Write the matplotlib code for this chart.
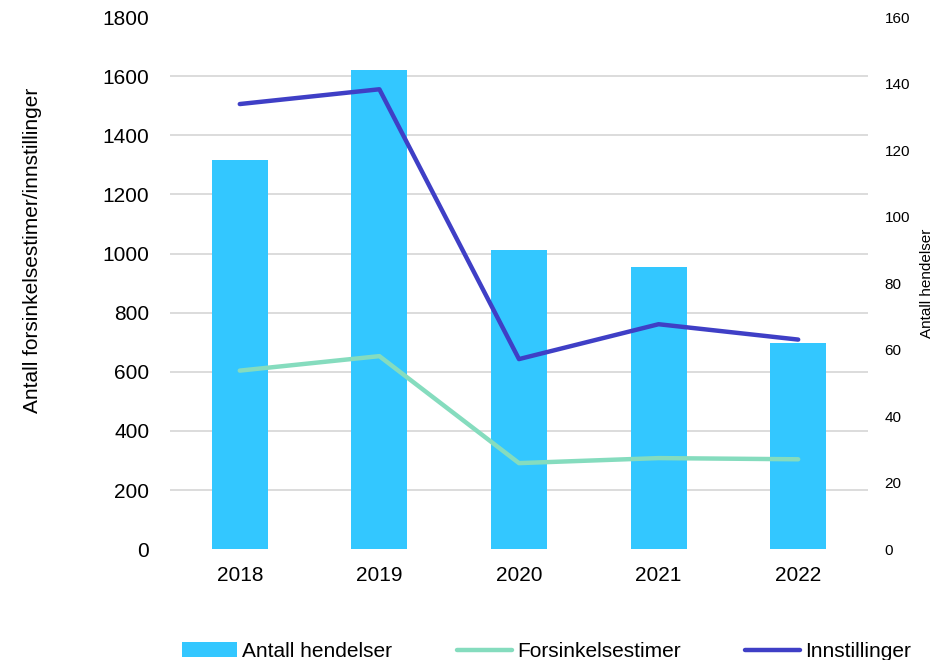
import numpy as np
import matplotlib
matplotlib.use('Agg')
import matplotlib.pyplot as plt

plt.rcParams.update({'font.family': ['Liberation Sans', 'DejaVu Sans']})

years = ['2018', '2019', '2020', '2021', '2022']
hendelser = [117, 144, 90, 85, 62]
forsinkelse = [604, 653, 291, 308, 304]
innstillinger = [1506, 1556, 643, 761, 709]

fig = plt.figure(figsize=(9.48, 6.6), dpi=100)
ax = fig.add_axes([0.1793, 0.168, 0.7363, 0.806])
ax2 = ax.twinx()

x = np.arange(len(years))
left_ticks = np.arange(0, 1801, 200)

# bars on the right axis, drawn behind the lines
ax2.bar(x, hendelser, width=0.4, color='#33c7ff', label='Antall hendelser', zorder=2)
ax2.set_ylim(0, 160)
ax2.set_yticks(np.arange(0, 161, 20))
# gridlines follow the left axis but sit behind the bars
ax2.set_yticks(left_ticks * 160 / 1800, minor=True)
ax2.grid(axis='y', which='minor', color='#d9d9d9', linewidth=1.3, zorder=0)
ax2.set_axisbelow(True)
ax2.tick_params(axis='y', which='both', length=0, labelsize=11, pad=12)
ax2.set_ylabel('Antall hendelser', fontsize=11, labelpad=7)

l1, = ax.plot(x, forsinkelse, color='#85dcbe', linewidth=3.2, label='Forsinkelsestimer',
              solid_capstyle='round')
l2, = ax.plot(x, innstillinger, color='#3f3fc6', linewidth=3.2, label='Innstillinger',
              solid_capstyle='round')
ax.set_zorder(ax2.get_zorder() + 1)
ax.patch.set_visible(False)

ax.set_xlim(-0.5, 4.5)
ax.set_ylim(0, 1800)
ax.set_yticks(left_ticks)
ax.set_xticks(x)
ax.set_xticklabels(years)
ax.tick_params(axis='both', length=0, labelsize=15)
ax.tick_params(axis='y', pad=15)
ax.tick_params(axis='x', pad=12)
ax.set_ylabel('Antall forsinkelsestimer/innstillinger', fontsize=15)
ax.yaxis.set_label_coords(-0.183, 0.562)

for a in (ax, ax2):
    for s in a.spines.values():
        s.set_visible(False)

bars = ax2.containers[0]
fig.legend([bars, l1, l2], ['Antall hendelser', 'Forsinkelsestimer', 'Innstillinger'],
           loc='center', bbox_to_anchor=(0.5765, 0.013), ncol=3, frameon=False,
           fontsize=15, handlelength=2.65, handletextpad=0.25, columnspacing=3.1)

fig.savefig('out.png', dpi=100)
